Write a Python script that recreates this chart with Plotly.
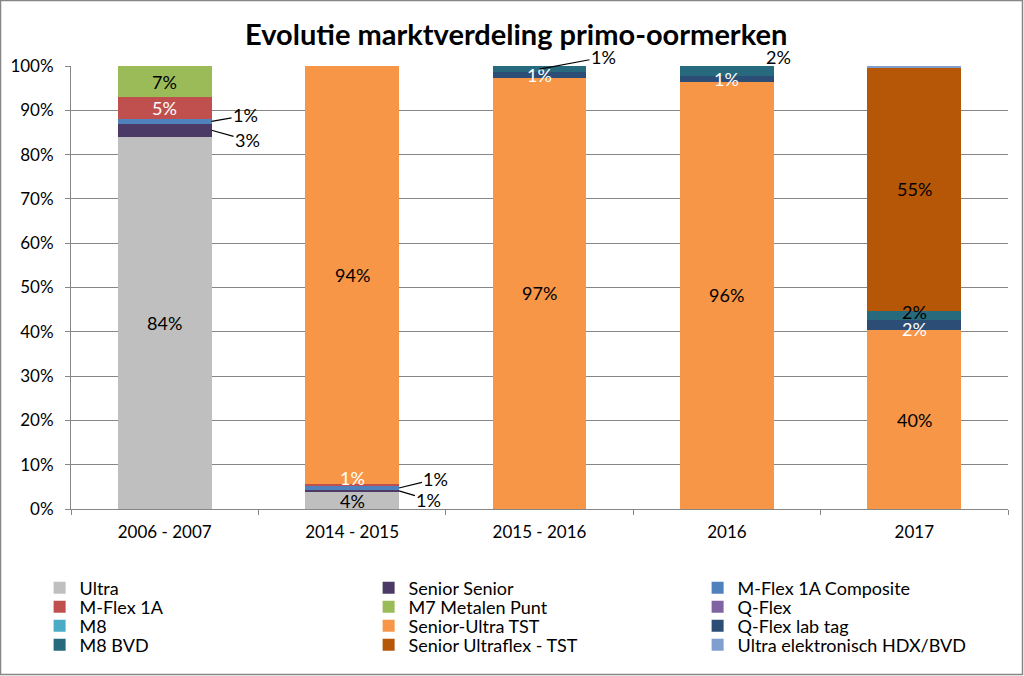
import plotly.graph_objects as go

categories = ["2006 - 2007", "2014 - 2015", "2015 - 2016", "2016", "2017"]

series_names = [
    "Ultra", "Senior Senior", "M-Flex 1A Composite",
    "M-Flex 1A", "M7 Metalen Punt", "Q-Flex",
    "M8", "Senior-Ultra TST", "Q-Flex lab tag",
    "M8 BVD", "Senior Ultraflex - TST", "Ultra elektronisch HDX/BVD",
]

ultra = [84, 3.8, 0, 0, 0]
senior_senior = [3, 0.6, 0, 0, 0]
mflex_1a_composite = [1, 0.7, 0, 0, 0]
mflex_1a = [5, 0.6, 0, 0, 0]
m7_metalen_punt = [7, 0, 0, 0, 0]
q_flex = [0, 0, 0, 0, 0]
m8 = [0, 0, 0, 0, 0]
senior_ultra_tst = [0, 94.3, 97.4, 96.4, 40.4]
q_flex_lab_tag = [0, 0, 1.2, 1.4, 2.2]
m8_bvd = [0, 0, 1.4, 2.2, 2.0]
senior_ultraflex_tst = [0, 0, 0, 0, 55.1]
ultra_elektronisch = [0, 0, 0, 0, 0.3]

values = [ultra, senior_senior, mflex_1a_composite, mflex_1a, m7_metalen_punt,
          q_flex, m8, senior_ultra_tst, q_flex_lab_tag, m8_bvd,
          senior_ultraflex_tst, ultra_elektronisch]

colors = ["#BFBFBF", "#4B3A66", "#4F81BD", "#C0504D", "#9BBB59", "#8064A2",
          "#4BACC6", "#F79646", "#2C4D75", "#276A7E", "#B65708", "#7F9FCE"]
label_colors = ["#000000", "#000000", "#000000", "#FFFFFF", "#000000", "#000000",
                "#000000", "#000000", "#FFFFFF", "#000000", "#000000", "#000000"]

FONT = "Lato"
FS = 17
LFS = 18

W, H = 1024, 676
ml, mr, mt, mb = 71, 16, 66, 167
pw, ph = W - ml - mr, H - mt - mb

legend_ids = ["legend", "legend2", "legend3", "legend4"]
legend_rows_px = [588, 607, 626, 645]   # centre of each legend row, page pixels

fig = go.Figure()
for i, (name, vals, col) in enumerate(zip(series_names, values, colors)):
    fig.add_trace(go.Bar(
        name=name, x=categories, y=vals, marker=dict(color=col, line=dict(width=0)),
        hoverinfo="name+y", legend=legend_ids[i // 3],
    ))

# label placement tweaks (pixel offsets), keyed by (series index, category index)
leader = {
    (2, 0): dict(edge=True, ax=34, ay=-6),
    (1, 0): dict(edge=True, ax=36, ay=10),
    (2, 1): dict(edge=True, ax=37, ay=-9),
    (1, 1): dict(edge=True, ax=30, ay=9),
    (9, 2): dict(edge=False, ax=64, ay=-12),
}
shifted = {
    (3, 1): dict(xshift=0, yshift=7),
    (9, 3): dict(xshift=52, yshift=14),
    (9, 4): dict(xshift=0, yshift=4),
    (8, 4): dict(xshift=0, yshift=-4),
}

annotations = []
for ci in range(len(categories)):
    base = 0.0
    for si, vals in enumerate(values):
        v = vals[ci]
        if v <= 0:
            continue
        mid = base + v / 2
        base += v
        if v < 0.5:
            continue
        txt = f"{round(v)}%"
        key = (si, ci)
        if key in leader:
            l = leader[key]
            annotations.append(dict(
                x=ci + (0.25 if l["edge"] else 0.0), y=mid, xref="x", yref="y",
                text=txt, showarrow=True, arrowhead=0, arrowwidth=1.2,
                arrowcolor="#000000", ax=l["ax"], ay=l["ay"], standoff=0,
                font=dict(family=FONT, size=LFS, color="#000000"),
            ))
        else:
            s = shifted.get(key, dict(xshift=0, yshift=0))
            annotations.append(dict(
                x=ci, y=mid, xref="x", yref="y", text=txt, showarrow=False,
                xshift=s["xshift"], yshift=s["yshift"],
                font=dict(family=FONT, size=LFS, color=label_colors[si]),
            ))

annotations.append(dict(
    text="<b>Evolutie marktverdeling primo-oormerken</b>", x=0.5, y=1,
    xref="paper", yref="paper", yanchor="bottom", yshift=13, xshift=-24,
    showarrow=False, font=dict(family=FONT, size=29, color="#000000"),
))

legend_layout = {}
for lid, ypx in zip(legend_ids, legend_rows_px):
    legend_layout[lid] = dict(
        orientation="h", x=-0.0335, xanchor="left",
        y=(H - mb - ypx) / ph, yanchor="middle",
        entrywidth=284, entrywidthmode="pixels", traceorder="normal",
        font=dict(family=FONT, size=LFS, color="#000000"),
        itemwidth=30, bgcolor="rgba(0,0,0,0)",
    )

fig.update_layout(
    width=W, height=H,
    margin=dict(l=ml, r=mr, t=mt, b=mb, autoexpand=False),
    barmode="stack", bargap=0.5,
    plot_bgcolor="#FFFFFF", paper_bgcolor="#FFFFFF",
    font=dict(family=FONT, size=FS, color="#000000"),
    showlegend=True,
    annotations=annotations,
    xaxis=dict(
        type="category", showgrid=False, showline=True, linecolor="#868686",
        linewidth=1, ticks="outside", tickson="boundaries", ticklen=5,
        tickcolor="#868686", tickfont=dict(family=FONT, size=FS, color="#000000"),
        ticklabelstandoff=8, fixedrange=True,
    ),
    yaxis=dict(
        range=[0, 100], dtick=10, ticksuffix="%", showgrid=True,
        gridcolor="#868686", gridwidth=1, showline=True, linecolor="#868686",
        ticks="outside", ticklen=5, tickcolor="#868686",
        tickfont=dict(family=FONT, size=FS, color="#000000"), zeroline=False,
        ticklabelstandoff=8, fixedrange=True,
    ),
    shapes=[dict(
        type="rect", xref="paper", yref="paper",
        x0=(-ml + 0.5) / pw, x1=1 + (mr - 1.5) / pw,
        y0=(-mb + 1.5) / ph, y1=1 + (mt - 0.5) / ph,
        line=dict(color="#868686", width=1.5), fillcolor="rgba(0,0,0,0)",
    )],
    **legend_layout,
)

fig.write_html("out.html", config={"displayModeBar": False},
               post_script="document.body.style.margin='0';")
